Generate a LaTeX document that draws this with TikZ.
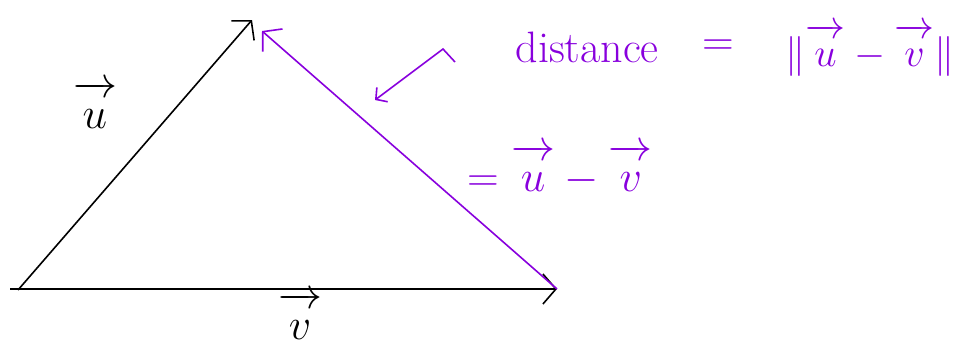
\documentclass[tikz,border=0pt]{standalone}
\usepackage{fix-cm}
\usepackage{amsmath}
\usetikzlibrary{arrows.meta}
\definecolor{pen}{RGB}{136,0,221}
\newcommand{\hvec}[1]{\overrightarrow{\vphantom{d}#1}}
\tikzset{
  vecline/.style={line width=1.6pt, -{Straight Barb[length=13pt,width=30pt]}},
  hand/.style={font=\fontsize{44}{52}\selectfont},
}
\begin{document}
\begin{tikzpicture}[x=1pt,y=-1pt]
  \useasboundingbox (0,0) rectangle (963,348);

  % 1. Corner points of the triangle (pixel coordinates, y downwards)
  \coordinate (O) at (18,290);
  \coordinate (S) at (10,289); % base line starts a bit left of O
  \coordinate (U) at (252,20);
  \coordinate (V) at (557,289);
  \coordinate (D) at (262,31); % tip of the difference vector

  % 2. The two vectors u and v
  \draw[vecline] (O) -- (U);
  \draw[vecline] (S) -- (V);
  \node[hand] (ulabel) at (95,105) {$\hvec{u}$};
  \node[hand] (vlabel) at (300,316) {$\hvec{v}$};

  % 3. The difference u - v, from the tip of v to the tip of u
  \draw[vecline, pen] (V) -- (D);

  % 4. Pointer and the written explanation
  \coordinate (P) at (455,62);
  \coordinate (Q) at (375,100);
  \draw[pen, line width=1.6pt, -{Straight Barb[length=8pt,width=18pt]}]
    (P) -- (443,49) -- (Q);
  \node[hand, pen, anchor=base west] (dist) at (512,62) {distance};
  \node[hand, pen] (eqA) at (718,48) {$=$};
  \node[hand, pen, font=\fontsize{40}{48}\selectfont] (norm) at (870,50)
    {$\lVert \hvec{u} - \hvec{v} \rVert$};
  \node[hand, pen] (diff) at (560,170) {$= \hvec{u} - \hvec{v}$};

\end{tikzpicture}
\end{document}
